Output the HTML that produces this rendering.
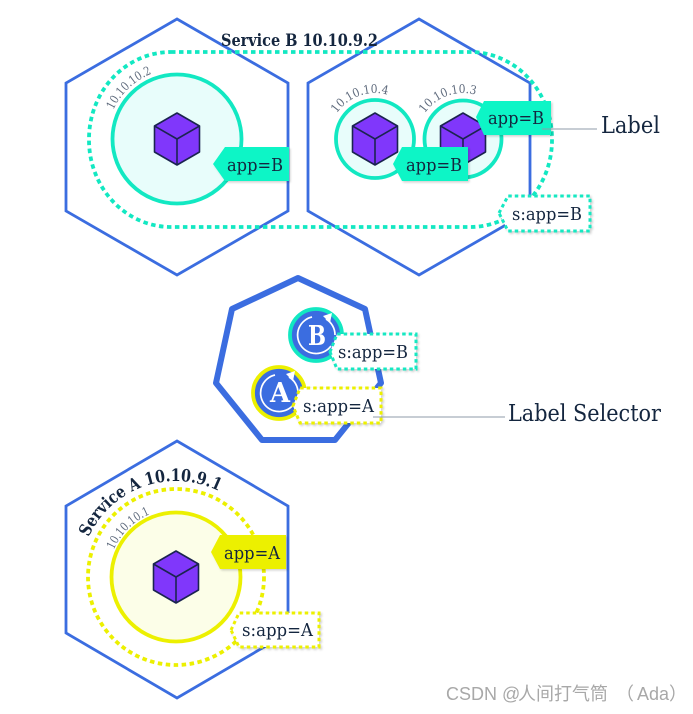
<!DOCTYPE html>
<html><head><meta charset="utf-8"><style>
html,body{margin:0;padding:0;background:#fff;width:693px;height:714px;overflow:hidden}
svg{display:block}
text{font-family:"DejaVu Serif","Liberation Serif",serif;fill:#14263f}
.ip{font-size:12px;fill:#5f6b7d}
.lb{font-size:18px}
</style></head><body>
<svg width="693" height="714" viewBox="0 0 693 714" xmlns="http://www.w3.org/2000/svg">
<defs>
<g id="cube" stroke="#1b2450" stroke-width="1.6" stroke-linejoin="round">
<polygon points="0,-26 22.5,-13 22.5,13 0,26 -22.5,13 -22.5,-13" fill="#8037fb"/>
<polyline points="-22.5,-13 0,0 22.5,-13" fill="none"/>
<line x1="0" y1="0" x2="0" y2="26"/>
</g>
<filter id="sh" x="-10%" y="-10%" width="125%" height="130%"><feDropShadow dx="1.5" dy="1.5" stdDeviation="1" flood-color="#000" flood-opacity=".18"/></filter>
<path id="a1" d="M107,139 A70,70 0 0 1 177,69"/>
<path id="a2" d="M329,139 A46,46 0 0 1 421,139"/>
<path id="a3" d="M417,139 A46,46 0 0 1 509,139"/>
<path id="a4" d="M108,577 A68,68 0 0 1 176,509"/>
<path id="a5" d="M80,577 A96,96 0 0 1 272,577"/>
</defs>

<!-- Service B hexagons -->
<g fill="#fff" stroke="#3b6de0" stroke-width="2.8">
<polygon points="177,19 288,83 288,211 177,275 66,211 66,83"/>
<polygon points="419,19 530,83 530,211 419,275 308,211 308,83"/>
</g>
<rect x="89" y="52" width="463" height="175" rx="82" ry="87" fill="none" stroke="#12e8c2" stroke-width="3.8" stroke-dasharray="4.5 3.5"/>
<text x="221" y="46" font-size="17" font-weight="700" textLength="157" lengthAdjust="spacingAndGlyphs">Service B 10.10.9.2</text>

<circle cx="177" cy="139" r="64.5" fill="#e8fdfb" stroke="#12e8c2" stroke-width="3.8"/>
<use href="#cube" x="177" y="139"/>
<circle cx="375" cy="139" r="39" fill="#e8fdfb" stroke="#12e8c2" stroke-width="3.8"/>
<use href="#cube" x="375" y="139"/>
<circle cx="463" cy="139" r="38.5" fill="#e8fdfb" stroke="#12e8c2" stroke-width="3.8"/>
<use href="#cube" x="463" y="139"/>

<text class="ip"><textPath href="#a1" startOffset="30" textLength="54" lengthAdjust="spacingAndGlyphs">10.10.10.2</textPath></text>
<text class="ip"><textPath href="#a2" startOffset="27" textLength="58" lengthAdjust="spacingAndGlyphs">10.10.10.4</textPath></text>
<text class="ip"><textPath href="#a3" startOffset="27" textLength="58" lengthAdjust="spacingAndGlyphs">10.10.10.3</textPath></text>

<polygon points="213,164 225,147 289,147 289,181 225,181" fill="#0ff5c6" filter="url(#sh)"/>
<text class="lb" x="227" y="171" textLength="56" lengthAdjust="spacingAndGlyphs">app=B</text>
<polygon points="393,164 402,147 468,147 468,181 402,181" fill="#0ff5c6" filter="url(#sh)"/>
<text class="lb" x="406" y="171" textLength="56" lengthAdjust="spacingAndGlyphs">app=B</text>
<polygon points="476,117 484,101 551,101 551,135 484,135" fill="#0ff5c6" filter="url(#sh)"/>
<text class="lb" x="488" y="124" textLength="56" lengthAdjust="spacingAndGlyphs">app=B</text>

<line x1="542" y1="129" x2="597" y2="129" stroke="#8f9baa" stroke-width="1"/>
<text x="601" y="133" font-size="23" textLength="59" lengthAdjust="spacingAndGlyphs">Label</text>

<polygon points="499,213 508,196 590,196 590,231 508,231" fill="#fff" stroke="#12e8c2" stroke-width="3" stroke-dasharray="3.5 3" filter="url(#sh)"/>
<text class="lb" x="512" y="220" textLength="70" lengthAdjust="spacingAndGlyphs">s:app=B</text>

<!-- Heptagon -->
<polygon points="298,278 365,309 381,383 335,440 262,440 216,383 232,309" fill="#fff" stroke="#3b6de0" stroke-width="6" stroke-linejoin="round"/>

<circle cx="316" cy="335" r="26" fill="#3b6de0" stroke="#12e8c2" stroke-width="3.8"/>
<path d="M312,317 A18.5,18.5 0 1 0 331,346" fill="none" stroke="#fff" stroke-width="1.7"/>
<path d="M326,319 A18.5,18.5 0 0 1 335,335" fill="none" stroke="#fff" stroke-width="1.7"/>
<polygon points="323,316 332,313 330,323" fill="#fff"/>
<text x="308" y="345" font-size="27" font-weight="700" textLength="18" lengthAdjust="spacingAndGlyphs" style="fill:#fff">B</text>

<circle cx="279" cy="393" r="26" fill="#3b6de0" stroke="#ecf000" stroke-width="3.8"/>
<path d="M275,375 A18.5,18.5 0 1 0 294,404" fill="none" stroke="#fff" stroke-width="1.7"/>
<path d="M289,377 A18.5,18.5 0 0 1 298,393" fill="none" stroke="#fff" stroke-width="1.7"/>
<polygon points="286,374 295,371 293,381" fill="#fff"/>
<text x="270" y="402" font-size="27" font-weight="700" textLength="20" lengthAdjust="spacingAndGlyphs" style="fill:#fff">A</text>

<polygon points="330,352 337,334 416,334 416,369 337,369" fill="#fff" stroke="#12e8c2" stroke-width="3" stroke-dasharray="3.5 3" filter="url(#sh)"/>
<text class="lb" x="338" y="358" textLength="70" lengthAdjust="spacingAndGlyphs">s:app=B</text>
<polygon points="293,406 300,388 381,388 381,423 300,423" fill="#fff" stroke="#ecf000" stroke-width="3" stroke-dasharray="3.5 3" filter="url(#sh)"/>
<text class="lb" x="303" y="412" textLength="71" lengthAdjust="spacingAndGlyphs">s:app=A</text>

<line x1="373" y1="417" x2="505" y2="417" stroke="#8f9baa" stroke-width="1"/>
<text x="508" y="421" font-size="23" textLength="153" lengthAdjust="spacingAndGlyphs">Label Selector</text>

<!-- Service A -->
<polygon points="177,441 288,506 288,633 177,698 66,633 66,506" fill="#fff" stroke="#3b6de0" stroke-width="2.8"/>
<circle cx="176" cy="577" r="88" fill="none" stroke="#ecf000" stroke-width="3.8" stroke-dasharray="4.5 3.5"/>
<circle cx="176" cy="577" r="64.5" fill="#fcfee8" stroke="#ecf000" stroke-width="3.8"/>
<use href="#cube" x="176" y="577"/>
<text font-size="17" font-weight="700"><textPath href="#a5" startOffset="41" textLength="154" lengthAdjust="spacingAndGlyphs">Service A  10.10.9.1</textPath></text>
<text class="ip"><textPath href="#a4" startOffset="28" textLength="52" lengthAdjust="spacingAndGlyphs">10.10.10.1</textPath></text>

<polygon points="211,552 220,535 286,535 286,569 220,569" fill="#ecf000" filter="url(#sh)"/>
<text class="lb" x="224" y="559" textLength="56" lengthAdjust="spacingAndGlyphs">app=A</text>
<polygon points="231,630 239,613 319,613 319,647 239,647" fill="#fff" stroke="#ecf000" stroke-width="3" stroke-dasharray="3.5 3" filter="url(#sh)"/>
<text class="lb" x="242" y="636" textLength="71" lengthAdjust="spacingAndGlyphs">s:app=A</text>

<text y="700" font-size="18" style="font-family:'Liberation Sans','Noto Sans CJK SC',sans-serif;fill:#a8a8a8"><tspan x="446">CSDN @</tspan><tspan x="518">人间打气筒</tspan><tspan x="616">（</tspan><tspan x="637">Ada</tspan><tspan x="669">）</tspan></text>
</svg>
</body></html>
